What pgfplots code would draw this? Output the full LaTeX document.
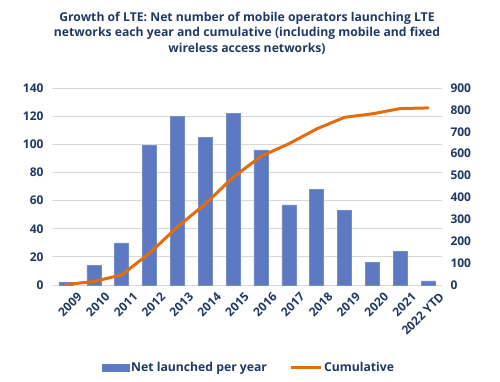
\documentclass[border=0pt]{standalone}
\usepackage{fontspec}
\setmainfont{Open Sans}
\usepackage{pgfplots}
\pgfplotsset{compat=1.18}
\definecolor{barblue}{RGB}{92,121,193}
\definecolor{lineorange}{RGB}{228,108,10}
\definecolor{navy}{RGB}{31,56,100}
\definecolor{gridgray}{RGB}{217,217,217}
\begin{document}
\begin{tikzpicture}
\useasboundingbox (-52pt,-97pt) rectangle (448pt,285pt);
\node[align=center, font=\bfseries\fontsize{12.2}{15.5}\selectfont, text=navy] at (195pt,252pt)
 {Growth of LTE: Net number of mobile operators launching LTE\\networks each year and cumulative (including mobile and fixed\\wireless access networks)};
\begin{axis}[
 at={(0pt,0pt)}, anchor=south west,
 scale only axis, width=390pt, height=197pt,
 xmin=-0.5, xmax=13.5, ymin=0, ymax=140,
 ytick={0,20,...,140},
 xtick={0,...,13},
 xticklabels={2009,2010,2011,2012,2013,2014,2015,2016,2017,2018,2019,2020,2021,2022 YTD},
 axis x line*=bottom, axis y line*=left,
 axis line style={draw=none},
 major tick length=0pt,
 ymajorgrids, grid style={gridgray, line width=0.8pt},
 tick label style={font=\bfseries\fontsize{12}{14}\selectfont, text=navy},
 /pgf/number format/assume math mode=true,
 yticklabel style={xshift=-5pt},
 xticklabel style={rotate=45, anchor=north east, inner sep=0pt, yshift=-12pt, xshift=3pt},
 legend style={at={(0.505,-0.421)}, anchor=center, draw=none, legend columns=2,
   font=\bfseries\fontsize{12.2}{14}\selectfont, text=navy,
   /tikz/every even column/.append style={column sep=20pt}},
 clip=false,
]
\addplot[ybar, bar width=14pt, fill=barblue, draw=barblue!85!white,
  legend image code/.code={\fill[barblue] (0pt,-3.5pt) rectangle (27pt,4pt);}]
 coordinates {(0,2) (1,14) (2,30) (3,99) (4,120) (5,105) (6,122) (7,96) (8,57) (9,68) (10,53) (11,16) (12,24) (13,3)};
\addlegendentry{Net launched per year}
\addlegendimage{legend image code/.code={\draw[lineorange, line width=3pt] (0pt,0pt) -- (30pt,0pt);}}
\addlegendentry{Cumulative}
\end{axis}
\begin{axis}[
 at={(0pt,0pt)}, anchor=south west,
 scale only axis, width=390pt, height=197pt,
 xmin=-0.5, xmax=13.5, ymin=0, ymax=900,
 ytick={0,100,...,900},
 hide x axis,
 axis y line*=right,
 axis line style={draw=none},
 major tick length=0pt,
 tick label style={font=\bfseries\fontsize{12}{14}\selectfont, text=navy},
 /pgf/number format/assume math mode=true,
 yticklabel style={xshift=5pt},
 clip=false,
]
\addplot[lineorange, line width=3pt, line join=round, line cap=round]
 coordinates {(0,2) (1,16) (2,46) (3,145) (4,265) (5,370) (6,492) (7,588) (8,645) (9,713) (10,766) (11,782) (12,806) (13,809)};
\end{axis}
\end{tikzpicture}
\end{document}
